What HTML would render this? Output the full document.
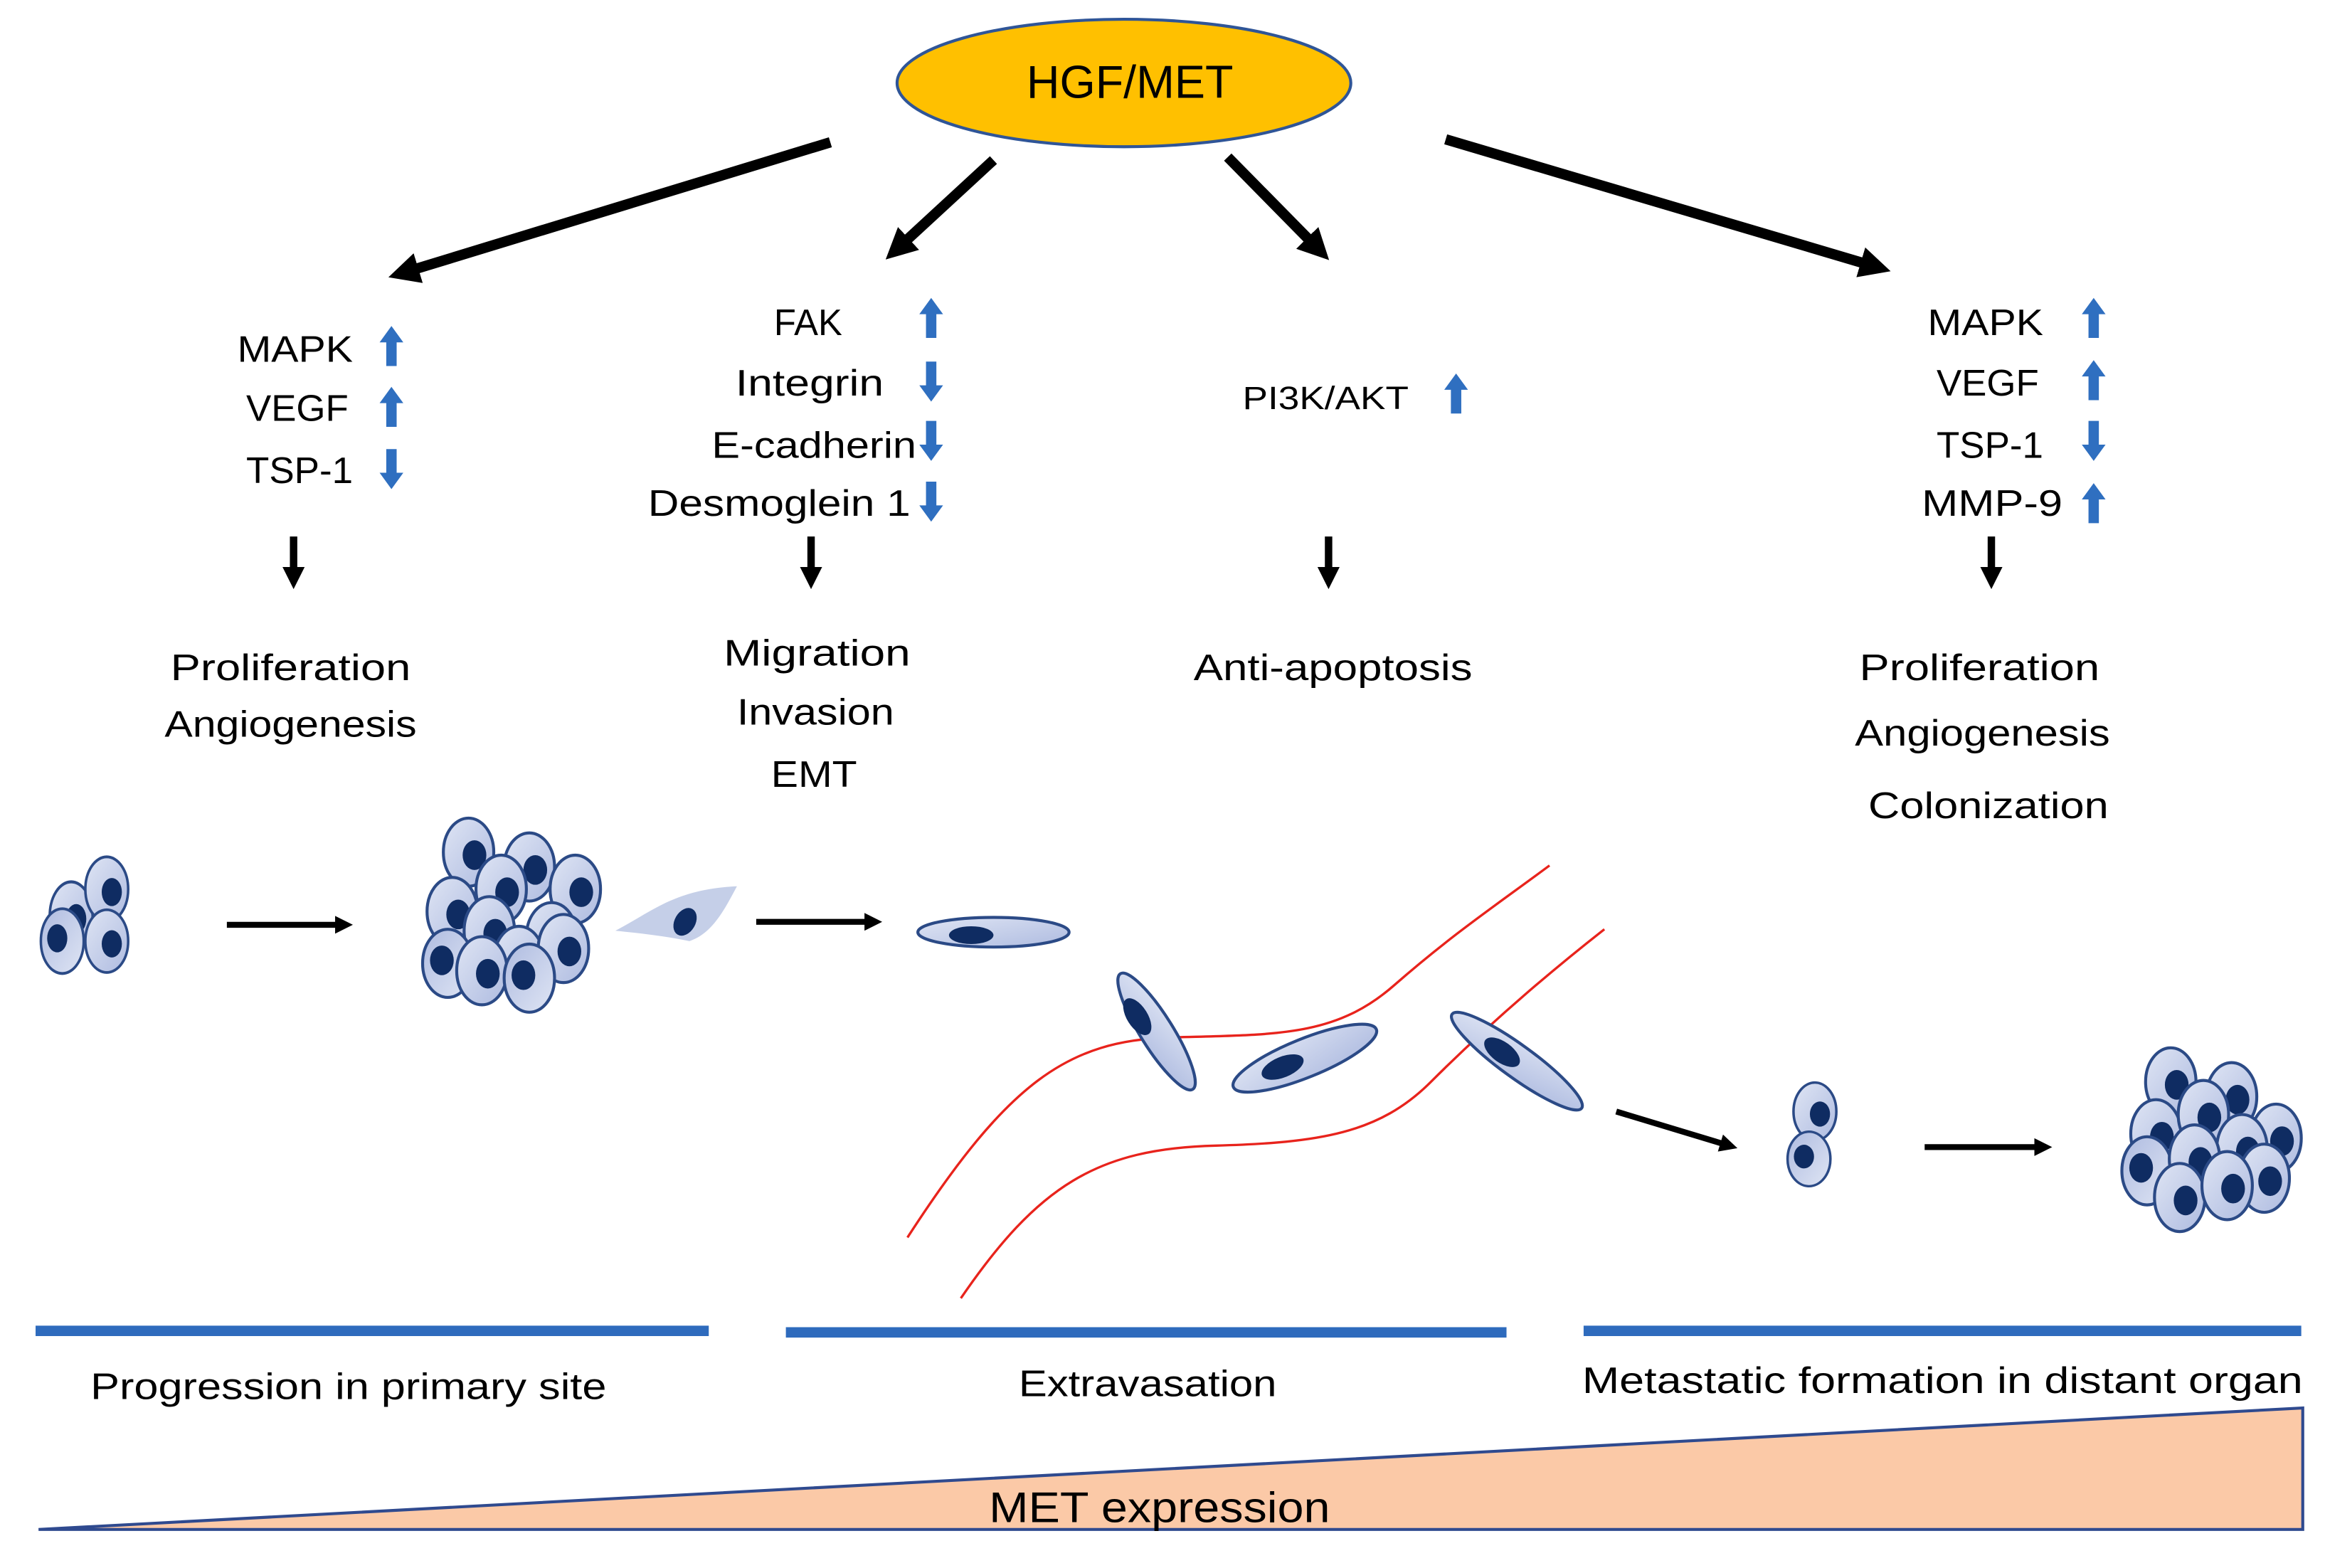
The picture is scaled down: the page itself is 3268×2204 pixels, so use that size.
<!DOCTYPE html>
<html><head><meta charset="utf-8"><style>
html,body{margin:0;padding:0;background:#fff;}
svg{display:block;}
text{font-family:"Liberation Sans",sans-serif;fill:#000;}
</style></head><body>
<svg width="3268" height="2204" viewBox="0 0 1568 1058" preserveAspectRatio="none" xmlns="http://www.w3.org/2000/svg">
<defs>
<marker id="ah" markerWidth="3" markerHeight="3" refX="1.5" refY="1.5" orient="auto" markerUnits="strokeWidth"><path d="M0,0 L3,1.5 L0,3 Z" fill="#000"/></marker>
<marker id="ah2" markerWidth="3" markerHeight="3" refX="1.5" refY="1.5" orient="auto" markerUnits="strokeWidth"><path d="M0,0 L3,1.5 L0,3 Z" fill="#000"/></marker>
<path id="up" d="M-3.5,13 L3.5,13 L3.5,-3 L8,-3 L0,-14 L-8,-3 L-3.5,-3 Z" fill="#2f6fc0"/>
<linearGradient id="cg" x1="0" y1="0" x2="1" y2="1"><stop offset="0" stop-color="#dfe5f4"/><stop offset="1" stop-color="#aebbe0"/></linearGradient>
<g id="cell"><ellipse cx="0" cy="0" rx="17" ry="23" fill="url(#cg)" stroke="#2b4a86" stroke-width="2"/><ellipse cx="4" cy="2" rx="8" ry="10" fill="#0f2c62"/></g>
</defs>

<ellipse cx="758" cy="56" rx="153" ry="43" fill="#ffc000" stroke="#2f5597" stroke-width="2"/>
<text x="762" y="66" font-size="31" text-anchor="middle">HGF/MET</text>

<g stroke="#000" stroke-width="7" fill="none">
<line x1="560" y1="96" x2="272" y2="184" marker-end="url(#ah)"/>
<line x1="670" y1="108" x2="605" y2="168" marker-end="url(#ah)"/>
<line x1="828" y1="106" x2="889" y2="168" marker-end="url(#ah)"/>
<line x1="975" y1="94" x2="1265" y2="180" marker-end="url(#ah)"/>
</g>

<g font-size="25">
<text x="238" y="244" text-anchor="end" textLength="78" lengthAdjust="spacingAndGlyphs">MAPK</text>
<text x="235" y="284" text-anchor="end" textLength="69" lengthAdjust="spacingAndGlyphs">VEGF</text>
<text x="238" y="326" text-anchor="end" textLength="72" lengthAdjust="spacingAndGlyphs">TSP-1</text>
<text x="545" y="226" text-anchor="middle" textLength="46" lengthAdjust="spacingAndGlyphs">FAK</text>
<text x="546" y="267" text-anchor="middle" textLength="100" lengthAdjust="spacingAndGlyphs">Integrin</text>
<text x="618" y="309" text-anchor="end" textLength="138" lengthAdjust="spacingAndGlyphs">E-cadherin</text>
<text x="614" y="348" text-anchor="end" textLength="177" lengthAdjust="spacingAndGlyphs">Desmoglein 1</text>
<text x="894" y="276" text-anchor="middle" font-size="22" textLength="112" lengthAdjust="spacingAndGlyphs">PI3K/AKT</text>
<text x="1378" y="226" text-anchor="end" textLength="78" lengthAdjust="spacingAndGlyphs">MAPK</text>
<text x="1375" y="267" text-anchor="end" textLength="69" lengthAdjust="spacingAndGlyphs">VEGF</text>
<text x="1378" y="309" text-anchor="end" textLength="72" lengthAdjust="spacingAndGlyphs">TSP-1</text>
<text x="1391" y="348" text-anchor="end" textLength="95" lengthAdjust="spacingAndGlyphs">MMP-9</text>

<text x="196" y="459" text-anchor="middle" textLength="162" lengthAdjust="spacingAndGlyphs">Proliferation</text>
<text x="196" y="497" text-anchor="middle" textLength="170" lengthAdjust="spacingAndGlyphs">Angiogenesis</text>
<text x="551" y="449" text-anchor="middle" textLength="126" lengthAdjust="spacingAndGlyphs">Migration</text>
<text x="550" y="489" text-anchor="middle" textLength="106" lengthAdjust="spacingAndGlyphs">Invasion</text>
<text x="549" y="531" text-anchor="middle" textLength="58" lengthAdjust="spacingAndGlyphs">EMT</text>
<text x="899" y="459" text-anchor="middle" textLength="188" lengthAdjust="spacingAndGlyphs">Anti-apoptosis</text>
<text x="1335" y="459" text-anchor="middle" textLength="162" lengthAdjust="spacingAndGlyphs">Proliferation</text>
<text x="1337" y="503" text-anchor="middle" textLength="172" lengthAdjust="spacingAndGlyphs">Angiogenesis</text>
<text x="1341" y="552" text-anchor="middle" textLength="162" lengthAdjust="spacingAndGlyphs">Colonization</text>

<text x="235" y="944" text-anchor="middle" textLength="348" lengthAdjust="spacingAndGlyphs">Progression in primary site</text>
<text x="774" y="942" text-anchor="middle" textLength="174" lengthAdjust="spacingAndGlyphs">Extravasation</text>
<text x="1310" y="940" text-anchor="middle" textLength="486" lengthAdjust="spacingAndGlyphs">Metastatic formation in distant organ</text>
</g>

<use href="#up" transform="translate(264,234)"/>
<use href="#up" transform="translate(264,275)"/>
<use href="#up" transform="translate(264,316) rotate(180)"/>
<use href="#up" transform="translate(628,215)"/>
<use href="#up" transform="translate(628,257) rotate(180)"/>
<use href="#up" transform="translate(628,297) rotate(180)"/>
<use href="#up" transform="translate(628,338) rotate(180)"/>
<use href="#up" transform="translate(982,266)"/>
<use href="#up" transform="translate(1412,215)"/>
<use href="#up" transform="translate(1412,257)"/>
<use href="#up" transform="translate(1412,297) rotate(180)"/>
<use href="#up" transform="translate(1412,340)"/>

<g stroke="#000" stroke-width="5">
<line x1="198" y1="362" x2="198" y2="390" marker-end="url(#ah2)"/>
<line x1="547" y1="362" x2="547" y2="390" marker-end="url(#ah2)"/>
<line x1="896" y1="362" x2="896" y2="390" marker-end="url(#ah2)"/>
<line x1="1343" y1="362" x2="1343" y2="390" marker-end="url(#ah2)"/>
</g>

<g stroke="#000" stroke-width="4">
<line x1="153" y1="624" x2="232" y2="624" marker-end="url(#ah2)"/>
<line x1="510" y1="622" x2="589" y2="622" marker-end="url(#ah2)"/>
<line x1="1090" y1="750" x2="1166" y2="773" marker-end="url(#ah2)"/>
<line x1="1298" y1="774" x2="1378" y2="774" marker-end="url(#ah2)"/>
</g>

<g fill="none" stroke="#e8231c" stroke-width="1.6">
<path d="M612,835 C680,730 720,702 790,700 C860,698 900,700 940,665 C980,630 1010,610 1045,584"/>
<path d="M648,876 C700,800 740,775 820,773 C890,771 930,765 965,730 C1000,695 1040,660 1082,627"/>
</g>

<use href="#cell" transform="translate(48,618) scale(0.85,1)"/>
<use href="#cell" transform="translate(72,600) scale(0.85,0.95)"/>
<use href="#cell" transform="translate(72,635) scale(0.85,0.92)"/>
<use href="#cell" transform="translate(42,635) scale(0.85,0.95) rotate(180)"/>

<use href="#cell" transform="translate(316,575)"/>
<use href="#cell" transform="translate(357,585)"/>
<use href="#cell" transform="translate(305,615)"/>
<use href="#cell" transform="translate(338,600)"/>
<use href="#cell" transform="translate(388,600)"/>
<use href="#cell" transform="translate(372,632)"/>
<use href="#cell" transform="translate(330,628)"/>
<use href="#cell" transform="translate(302,650) rotate(180)"/>
<use href="#cell" transform="translate(350,648)"/>
<use href="#cell" transform="translate(380,640)"/>
<use href="#cell" transform="translate(325,655)"/>
<use href="#cell" transform="translate(357,660) rotate(180)"/>

<path d="M415,628 C440,615 455,600 497,598 C488,615 480,630 465,635 C450,632 435,630 415,628 Z" fill="#c5cfe8"/>
<ellipse cx="462" cy="622" rx="7" ry="10" transform="rotate(30 462 622)" fill="#0f2c62"/>

<g stroke="#2b4a86" stroke-width="2" fill="url(#cg)">
<ellipse cx="670" cy="629" rx="51" ry="10"/>
<ellipse cx="780" cy="696" rx="46" ry="11" transform="rotate(58 780 696)"/>
<ellipse cx="880" cy="714" rx="52" ry="13" transform="rotate(-22 880 714)"/>
<ellipse cx="1023" cy="716" rx="54" ry="11" transform="rotate(36 1023 716)"/>
</g>
<g fill="#0f2c62">
<ellipse cx="655" cy="631" rx="15" ry="6"/>
<ellipse cx="767" cy="686" rx="14" ry="7" transform="rotate(58 767 686)"/>
<ellipse cx="865" cy="720" rx="15" ry="7" transform="rotate(-22 865 720)"/>
<ellipse cx="1013" cy="710" rx="14" ry="7" transform="rotate(36 1013 710)"/>
</g>

<use href="#cell" transform="translate(1224,750) scale(0.85,0.85)"/>
<use href="#cell" transform="translate(1220,782) scale(0.85,0.8) rotate(180)"/>

<use href="#cell" transform="translate(1464,730)"/>
<use href="#cell" transform="translate(1505,740)"/>
<use href="#cell" transform="translate(1454,765)"/>
<use href="#cell" transform="translate(1486,752)"/>
<use href="#cell" transform="translate(1535,768)"/>
<use href="#cell" transform="translate(1512,775)"/>
<use href="#cell" transform="translate(1448,790) rotate(180)"/>
<use href="#cell" transform="translate(1480,782)"/>
<use href="#cell" transform="translate(1527,795)"/>
<use href="#cell" transform="translate(1470,808)"/>
<use href="#cell" transform="translate(1502,800)"/>

<g stroke="#2e6bbd" stroke-width="7">
<line x1="24" y1="898" x2="478" y2="898"/>
<line x1="530" y1="899" x2="1016" y2="899"/>
<line x1="1068" y1="898" x2="1552" y2="898"/>
</g>

<polygon points="26,1032 1553,950 1553,1032" fill="#fbc9a7" stroke="#2f4a8f" stroke-width="2"/>
<text x="782" y="1027" font-size="29" text-anchor="middle" textLength="230" lengthAdjust="spacingAndGlyphs">MET expression</text>
</svg>
</body></html>
